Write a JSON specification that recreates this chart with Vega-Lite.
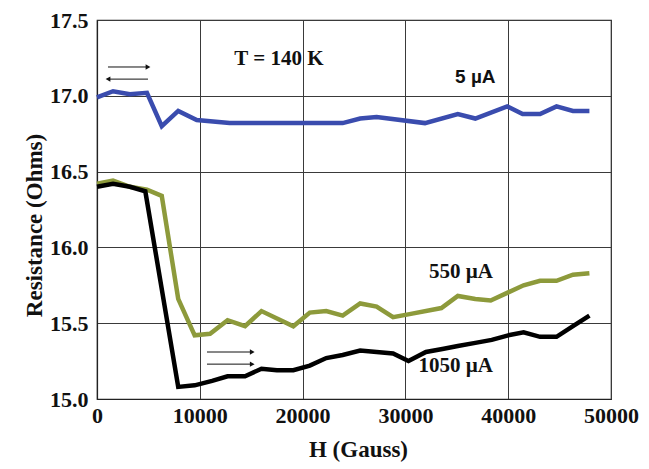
{
  "$schema": "https://vega.github.io/schema/vega-lite/v6.json",
  "autosize": {"type": "none"},
  "width": 514,
  "height": 379,
  "padding": {"left": 97, "top": 20, "right": 38, "bottom": 70},
  "background": "white",
  "config": {
    "view": {"stroke": "#222", "strokeWidth": 1.2},
    "axis": {
      "labelFont": "Liberation Serif", "labelFontWeight": "bold", "labelFontSize": 22, "labelColor": "#111",
      "titleFont": "Liberation Serif", "titleFontWeight": "bold", "titleFontSize": 23, "titleColor": "#111",
      "gridColor": "#3a3a3a", "gridOpacity": 1, "gridWidth": 1,
      "domainColor": "#222", "domainWidth": 1.2, "ticks": false
    }
  },
  "datasets": {
    "lines": [
      {"H": 0, "R": 16.99, "s": "5 µA"}, {"H": 1560, "R": 17.03, "s": "5 µA"}, {"H": 3200, "R": 17.01, "s": "5 µA"}, {"H": 4860, "R": 17.02, "s": "5 µA"}, {"H": 6300, "R": 16.8, "s": "5 µA"}, {"H": 7900, "R": 16.9, "s": "5 µA"}, {"H": 9700, "R": 16.84, "s": "5 µA"}, {"H": 12900, "R": 16.82, "s": "5 µA"}, {"H": 16000, "R": 16.82, "s": "5 µA"}, {"H": 20000, "R": 16.82, "s": "5 µA"}, {"H": 23900, "R": 16.82, "s": "5 µA"}, {"H": 25600, "R": 16.85, "s": "5 µA"}, {"H": 27200, "R": 16.86, "s": "5 µA"}, {"H": 31900, "R": 16.82, "s": "5 µA"}, {"H": 35100, "R": 16.88, "s": "5 µA"}, {"H": 36800, "R": 16.85, "s": "5 µA"}, {"H": 39900, "R": 16.93, "s": "5 µA"}, {"H": 41400, "R": 16.88, "s": "5 µA"}, {"H": 43100, "R": 16.88, "s": "5 µA"}, {"H": 44700, "R": 16.93, "s": "5 µA"}, {"H": 46300, "R": 16.9, "s": "5 µA"}, {"H": 47900, "R": 16.9, "s": "5 µA"},
      {"H": 0, "R": 16.42, "s": "550 µA"}, {"H": 1560, "R": 16.44, "s": "550 µA"}, {"H": 3200, "R": 16.4, "s": "550 µA"}, {"H": 4860, "R": 16.38, "s": "550 µA"}, {"H": 6300, "R": 16.34, "s": "550 µA"}, {"H": 7900, "R": 15.66, "s": "550 µA"}, {"H": 9500, "R": 15.42, "s": "550 µA"}, {"H": 11000, "R": 15.43, "s": "550 µA"}, {"H": 12700, "R": 15.52, "s": "550 µA"}, {"H": 14400, "R": 15.48, "s": "550 µA"}, {"H": 16000, "R": 15.58, "s": "550 µA"}, {"H": 19100, "R": 15.48, "s": "550 µA"}, {"H": 20700, "R": 15.57, "s": "550 µA"}, {"H": 22300, "R": 15.58, "s": "550 µA"}, {"H": 23900, "R": 15.55, "s": "550 µA"}, {"H": 25600, "R": 15.63, "s": "550 µA"}, {"H": 27200, "R": 15.61, "s": "550 µA"}, {"H": 28800, "R": 15.54, "s": "550 µA"}, {"H": 30400, "R": 15.56, "s": "550 µA"}, {"H": 33500, "R": 15.6, "s": "550 µA"}, {"H": 35100, "R": 15.68, "s": "550 µA"}, {"H": 36800, "R": 15.66, "s": "550 µA"}, {"H": 38300, "R": 15.65, "s": "550 µA"}, {"H": 39900, "R": 15.7, "s": "550 µA"}, {"H": 41500, "R": 15.75, "s": "550 µA"}, {"H": 43100, "R": 15.78, "s": "550 µA"}, {"H": 44700, "R": 15.78, "s": "550 µA"}, {"H": 46300, "R": 15.82, "s": "550 µA"}, {"H": 47900, "R": 15.83, "s": "550 µA"},
      {"H": 0, "R": 16.4, "s": "1050 µA"}, {"H": 1560, "R": 16.42, "s": "1050 µA"}, {"H": 3200, "R": 16.4, "s": "1050 µA"}, {"H": 4700, "R": 16.37, "s": "1050 µA"}, {"H": 7900, "R": 15.08, "s": "1050 µA"}, {"H": 9500, "R": 15.09, "s": "1050 µA"}, {"H": 11200, "R": 15.12, "s": "1050 µA"}, {"H": 12700, "R": 15.15, "s": "1050 µA"}, {"H": 14400, "R": 15.15, "s": "1050 µA"}, {"H": 16000, "R": 15.2, "s": "1050 µA"}, {"H": 17500, "R": 15.19, "s": "1050 µA"}, {"H": 19100, "R": 15.19, "s": "1050 µA"}, {"H": 20700, "R": 15.22, "s": "1050 µA"}, {"H": 22300, "R": 15.27, "s": "1050 µA"}, {"H": 23900, "R": 15.29, "s": "1050 µA"}, {"H": 25600, "R": 15.32, "s": "1050 µA"}, {"H": 27200, "R": 15.31, "s": "1050 µA"}, {"H": 28800, "R": 15.3, "s": "1050 µA"}, {"H": 30300, "R": 15.25, "s": "1050 µA"}, {"H": 32000, "R": 15.31, "s": "1050 µA"}, {"H": 33600, "R": 15.33, "s": "1050 µA"}, {"H": 35100, "R": 15.35, "s": "1050 µA"}, {"H": 36800, "R": 15.37, "s": "1050 µA"}, {"H": 38400, "R": 15.39, "s": "1050 µA"}, {"H": 40000, "R": 15.42, "s": "1050 µA"}, {"H": 41500, "R": 15.44, "s": "1050 µA"}, {"H": 43100, "R": 15.41, "s": "1050 µA"}, {"H": 44700, "R": 15.41, "s": "1050 µA"}, {"H": 46300, "R": 15.48, "s": "1050 µA"}, {"H": 47900, "R": 15.55, "s": "1050 µA"}
    ],
    "arrows": [
      {"H": 1070, "H2": 4960, "R": 17.19, "tip": 4960, "dir": "right"},
      {"H": 1070, "H2": 4960, "R": 17.11, "tip": 1070, "dir": "left"},
      {"H": 10700, "H2": 15100, "R": 15.31, "tip": 15100, "dir": "right"},
      {"H": 10700, "H2": 15100, "R": 15.23, "tip": 15100, "dir": "right"}
    ],
    "serifLabels": [
      {"H": 17700, "R": 17.245, "t": "T = 140 K"},
      {"H": 35400, "R": 15.84, "t": "550 µA"},
      {"H": 34900, "R": 15.22, "t": "1050 µA"}
    ],
    "sansLabels": [
      {"H": 36800, "R": 17.125, "t": "5 µA"}
    ]
  },
  "encoding": {
    "x": {"field": "H", "type": "quantitative", "scale": {"domain": [0, 50000], "nice": false},
      "axis": {"title": "H (Gauss)", "values": [0, 10000, 20000, 30000, 40000, 50000], "format": "d", "labelPadding": 6, "titlePadding": 12, "labelFlush": false, "titleX": 261}},
    "y": {"field": "R", "type": "quantitative", "scale": {"domain": [15, 17.5], "nice": false, "zero": false},
      "axis": {"title": "Resistance (Ohms)", "values": [15, 15.5, 16, 16.5, 17, 17.5], "format": ".1f", "labelPadding": 9, "titlePadding": 3, "titleY": 205}}
  },
  "layer": [
    {
      "data": {"name": "lines"},
      "mark": {"type": "line", "strokeJoin": "miter", "strokeCap": "butt"},
      "encoding": {
        "color": {"field": "s", "type": "nominal", "legend": null,
          "scale": {"domain": ["5 µA", "550 µA", "1050 µA"], "range": ["#3a4cae", "#8d9a3b", "#000000"]}},
        "strokeWidth": {"field": "s", "type": "nominal", "legend": null,
          "scale": {"domain": ["5 µA", "550 µA", "1050 µA"], "range": [4.5, 4.5, 4]}}
      }
    },
    {
      "data": {"name": "arrows"},
      "mark": {"type": "rule", "color": "#111", "strokeWidth": 1},
      "encoding": {"x2": {"field": "H2"}}
    },
    {
      "data": {"name": "arrows"},
      "mark": {"type": "point", "filled": true, "color": "#111", "size": 30, "opacity": 1},
      "encoding": {
        "x": {"field": "tip", "type": "quantitative"},
        "shape": {"field": "dir", "type": "nominal", "legend": null,
          "scale": {"domain": ["right", "left"], "range": ["triangle-right", "triangle-left"]}}
      }
    },
    {
      "data": {"name": "serifLabels"},
      "mark": {"type": "text", "font": "Liberation Serif", "fontWeight": "bold", "fontSize": 21, "color": "#111"},
      "encoding": {"text": {"field": "t"}}
    },
    {
      "data": {"name": "sansLabels"},
      "mark": {"type": "text", "font": "Liberation Sans", "fontWeight": "bold", "fontSize": 19, "color": "#111"},
      "encoding": {"text": {"field": "t"}}
    }
  ]
}
